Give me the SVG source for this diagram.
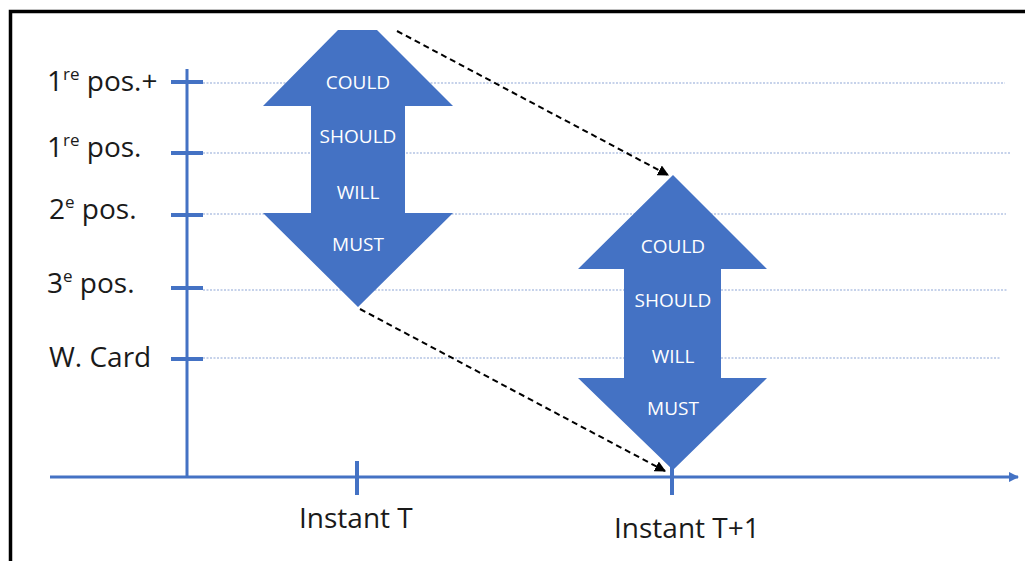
<svg xmlns="http://www.w3.org/2000/svg" width="1025" height="561" viewBox="0 0 1025 561">
<defs>
<style>
.lbl{font-family:"Open Sans","Liberation Sans",sans-serif;font-size:28px;fill:#1a1a1a}
.sup{font-size:17px}
.in{font-family:"Open Sans","Liberation Sans",sans-serif;font-size:19px;fill:#ffffff;text-anchor:middle}
.grid{stroke:#b4c4e4;stroke-width:1.5;stroke-dasharray:2 1.5;fill:none}
.axis{stroke:#4472c4;stroke-width:3;fill:none}
.tick{stroke:#4472c4;stroke-width:4;fill:none}
.dash{stroke:#000;stroke-width:2;stroke-dasharray:6 4;fill:none}
.arrow{fill:#4472c4}
</style>
<marker id="ah" viewBox="0 0 10 10" refX="9" refY="5" markerWidth="5.5" markerHeight="5.5" orient="auto" markerUnits="strokeWidth"><path d="M0,0 L10,5 L0,10 z" fill="#000"/></marker>
<marker id="ax" viewBox="0 0 10 10" refX="9" refY="5" markerWidth="3.5" markerHeight="3.5" orient="auto" markerUnits="strokeWidth"><path d="M0,0 L10,5 L0,10 z" fill="#4472c4"/></marker>
</defs>
<rect x="0" y="0" width="1025" height="561" fill="#ffffff"/>
<path d="M10.5,561 V11.5 H1025" stroke="#000" stroke-width="3.5" fill="none"/>
<g id="grid">
<line class="grid" x1="203" y1="83" x2="1005" y2="83"/>
<line class="grid" x1="203" y1="153" x2="1010" y2="153"/>
<line class="grid" x1="203" y1="214" x2="1006" y2="214"/>
<line class="grid" x1="203" y1="290" x2="1008" y2="290"/>
<line class="grid" x1="203" y1="358" x2="1000" y2="358"/>
</g>
<g id="axes">
<line class="axis" x1="187" y1="69" x2="187" y2="477"/>
<line class="axis" x1="50" y1="477" x2="1018" y2="477" marker-end="url(#ax)"/>
<line class="tick" x1="171" y1="82" x2="203" y2="82"/>
<line class="tick" x1="171" y1="153" x2="203" y2="153"/>
<line class="tick" x1="171" y1="215" x2="203" y2="215"/>
<line class="tick" x1="171" y1="288" x2="203" y2="288"/>
<line class="tick" x1="171" y1="359" x2="203" y2="359"/>
<line class="tick" x1="357" y1="461" x2="357" y2="495"/>
<line class="tick" x1="672" y1="462" x2="672" y2="495"/>
</g>
<g id="labels">
<text class="lbl" x="47" y="91">1<tspan class="sup" dy="-11">re</tspan><tspan dy="11"> pos.+</tspan></text>
<text class="lbl" x="47" y="157">1<tspan class="sup" dy="-11">re</tspan><tspan dy="11"> pos.</tspan></text>
<text class="lbl" x="49" y="219">2<tspan class="sup" dy="-11">e</tspan><tspan dy="11"> pos.</tspan></text>
<text class="lbl" x="47" y="293">3<tspan class="sup" dy="-11">e</tspan><tspan dy="11"> pos.</tspan></text>
<text class="lbl" x="49" y="367">W. Card</text>
<text class="lbl" x="299" y="528">Instant T</text>
<text class="lbl" x="614" y="538">Instant T+1</text>
</g>
<g id="arrowT">
<polygon class="arrow" points="338,30 377,30 453,106 405,106 405,213 453,213 358,307 263,213 311,213 311,106 263,106"/>
<text class="in" x="358" y="89">COULD</text>
<text class="in" x="358" y="143">SHOULD</text>
<text class="in" x="358" y="199">WILL</text>
<text class="in" x="358" y="251">MUST</text>
</g>
<g id="arrowT1">
<polygon class="arrow" points="673,175 767,269 721,269 721,378 767,378 673,470 578,378 624,378 624,269 578,269"/>
<text class="in" x="673" y="253">COULD</text>
<text class="in" x="673" y="307">SHOULD</text>
<text class="in" x="673" y="363">WILL</text>
<text class="in" x="673" y="415">MUST</text>
</g>
<g id="connectors">
<line class="dash" x1="397" y1="31" x2="668" y2="175" marker-end="url(#ah)"/>
<line class="dash" x1="360" y1="309" x2="665" y2="471" marker-end="url(#ah)"/>
</g>
</svg>
